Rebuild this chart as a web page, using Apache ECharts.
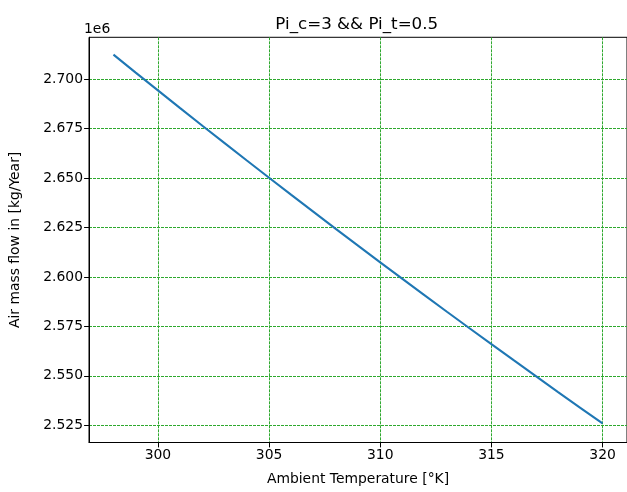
<!DOCTYPE html>
<html>
<head>
<meta charset="utf-8">
<script src="https://cdn.jsdelivr.net/npm/echarts@6/dist/echarts.min.js"></script>
<style>
  html, body { margin: 0; padding: 0; background: #fff; }
  #chart { width: 627px; height: 492px; }
</style>
</head>
<body>
<div id="chart"></div>
<script>
// Ambient temperature [K]
const temperatures = [298, 299, 300, 301, 302, 303, 304, 305, 306, 307, 308, 309,
                      310, 311, 312, 313, 314, 315, 316, 317, 318, 319, 320];
// Air mass flow, in units of 1e6 kg/Year
const airMassFlow = [2.71242, 2.70334, 2.69433, 2.68538, 2.67649, 2.66766, 2.65888,
                     2.65016, 2.64150, 2.63290, 2.62435, 2.61586, 2.60742, 2.59904,
                     2.59071, 2.58243, 2.57420, 2.56603, 2.55791, 2.54984, 2.54182,
                     2.53386, 2.52594];
const xTicks = [300, 305, 310, 315, 320];
const yTicks = [2.525, 2.550, 2.575, 2.600, 2.625, 2.650, 2.675, 2.700];

const titleText = 'Pi_c=3 && Pi_t=0.5';
const xLabel = 'Ambient Temperature [°K]';
const yLabel = 'Air mass flow in [kg/Year]';
const offsetText = '1e6';

const FONT = 'DejaVu Sans';
const GRID = { left: 84, top: 37.3, width: 545.5, height: 405.2 };
// dashed green grid lines
const gridLine = () => ({ color: '#2ea82e', width: 1, type: [3, 1] });

const chart = echarts.init(document.getElementById('chart'), null, { renderer: 'canvas' });

chart.setOption({
  animation: false,
  backgroundColor: '#ffffff',
  grid: Object.assign({
    show: true, borderColor: '#000', borderWidth: 1, backgroundColor: 'transparent'
  }, GRID),
  graphic: [
    {
      type: 'text', x: GRID.left + GRID.width / 2, y: 33,
      style: { text: titleText, font: '16.7px "' + FONT + '"', fill: '#000',
               align: 'center', verticalAlign: 'bottom' }
    },
    {
      type: 'text', x: 84, y: 36,
      style: { text: offsetText, font: '13.9px "' + FONT + '"', fill: '#000',
               align: 'left', verticalAlign: 'bottom' }
    }
  ],
  xAxis: {
    type: 'value',
    min: 296.9, max: 321.1,
    name: xLabel, nameLocation: 'middle', nameGap: 30,
    nameTextStyle: { fontFamily: FONT, fontSize: 13.9, color: '#000' },
    axisLine: { show: true, lineStyle: { color: '#000', width: 1 } },
    axisTick: { show: true, inside: false, length: 4.9, customValues: xTicks,
                lineStyle: { color: '#000', width: 1 } },
    axisLabel: { customValues: xTicks, margin: 6, fontFamily: FONT, fontSize: 13.9,
                 color: '#000', formatter: v => String(v) },
    splitLine: { show: true, lineStyle: gridLine() }
  },
  yAxis: {
    type: 'value',
    min: 2.5163, max: 2.7212,
    name: yLabel, nameLocation: 'middle', nameGap: 67, nameRotate: 90,
    nameTextStyle: { fontFamily: FONT, fontSize: 13.9, color: '#000' },
    axisLine: { show: true, lineStyle: { color: '#000', width: 1 } },
    axisTick: { show: true, inside: false, length: 4.9, customValues: yTicks,
                lineStyle: { color: '#000', width: 1 } },
    axisLabel: { customValues: yTicks, margin: 6, fontFamily: FONT, fontSize: 13.9,
                 color: '#000', formatter: v => v.toFixed(3) },
    splitLine: { show: true, lineStyle: gridLine() }
  },
  series: [{
    type: 'line',
    data: temperatures.map((t, i) => [t, airMassFlow[i]]),
    showSymbol: false,
    lineStyle: { color: '#1f77b4', width: 2.1 },
    clip: true
  }]
});
</script>
</body>
</html>
